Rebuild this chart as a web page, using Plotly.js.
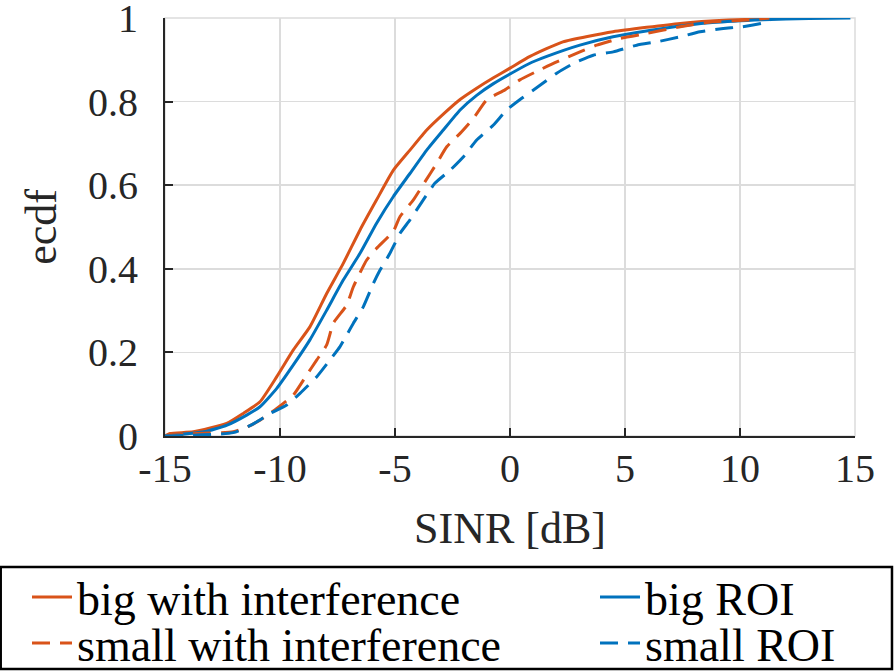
<!DOCTYPE html>
<html>
<head>
<meta charset="utf-8">
<script src="https://cdn.plot.ly/plotly-3.0.1.min.js"></script>
<style>html,body{margin:0;padding:0;background:#fff;}</style>
</head>
<body>
<div id="chart" style="width:894px;height:671px;"></div>
<script>
// big with interference (orange solid)
const bigIntX = [-15, -14.78, -13.77, -12.32, -11.6, -10.87, -10.14, -9.42, -8.7, -7.97, -7.25, -6.52, -5.8, -5.07, -4.35, -3.62, -2.9, -2.17, -1.45, -0.72, 0, 0.87, 2.3, 4.48, 7.4, 9.5, 11.7, 12.5];
const bigIntY = [0, 0.006, 0.01, 0.03, 0.054, 0.082, 0.142, 0.206, 0.261, 0.341, 0.413, 0.493, 0.565, 0.636, 0.684, 0.732, 0.77, 0.805, 0.832, 0.857, 0.88, 0.908, 0.943, 0.967, 0.987, 0.995, 0.999, 1];
// big ROI (blue solid)
const bigRoiX = [-15, -14.6, -13.3, -12.3, -11.45, -10.87, -10.14, -9.42, -8.7, -7.97, -7.25, -6.52, -5.8, -5.07, -4.35, -3.62, -2.9, -2.17, -1.45, -0.72, 0, 0.8, 1.6, 3.04, 4.48, 6.65, 8.8, 11, 13, 14.8];
const bigRoiY = [0, 0.002, 0.01, 0.026, 0.05, 0.07, 0.114, 0.17, 0.23, 0.301, 0.373, 0.437, 0.509, 0.573, 0.628, 0.684, 0.732, 0.78, 0.815, 0.843, 0.866, 0.89, 0.908, 0.935, 0.955, 0.975, 0.989, 0.996, 0.999, 1];
// small with interference (orange dashed)
const smallIntX = [-15, -13.6, -12.03, -11.45, -10.87, -10.14, -9.42, -8.84, -8.4, -7.97, -7.68, -7.1, -6.81, -6.23, -5.8, -5.07, -4.78, -4.2, -3.7, -3.19, -2.75, -2.17, -1.59, -1.01, -0.22, 0.43, 1.3, 2.03, 3.04, 3.77, 4.78, 5.94, 7.4, 8.8, 10.3, 11.3];
const smallIntY = [0, 0.006, 0.01, 0.021, 0.038, 0.066, 0.098, 0.146, 0.182, 0.218, 0.27, 0.313, 0.357, 0.421, 0.449, 0.49, 0.525, 0.565, 0.608, 0.652, 0.692, 0.724, 0.76, 0.804, 0.828, 0.852, 0.876, 0.895, 0.919, 0.935, 0.951, 0.963, 0.979, 0.991, 0.995, 1];
// small ROI (blue dashed)
const smallRoiX = [-15, -12.03, -11.16, -10.43, -9.71, -9.13, -8.4, -7.83, -7.39, -6.81, -6.38, -5.94, -5.65, -5.22, -4.78, -4.35, -3.77, -3.26, -2.6, -1.96, -1.45, -0.72, -0.14, 0.51, 1.23, 2.03, 2.75, 3.62, 4.49, 5.51, 6.38, 7.4, 8.26, 9.27, 10.1, 11.2, 11.4];
const smallRoiY = [0, 0.008, 0.029, 0.054, 0.074, 0.102, 0.142, 0.182, 0.214, 0.27, 0.309, 0.365, 0.397, 0.437, 0.485, 0.517, 0.565, 0.605, 0.636, 0.672, 0.708, 0.744, 0.78, 0.808, 0.836, 0.868, 0.891, 0.911, 0.919, 0.935, 0.943, 0.955, 0.967, 0.975, 0.979, 0.991, 1];

const seriesNames = ['big with interference', 'big ROI', 'small with interference', 'small ROI'];
const xTicks = [-15, -10, -5, 0, 5, 10, 15];
const xTickText = ['-15', '-10', '-5', '0', '5', '10', '15'];
const yTicks = [0, 0.2, 0.4, 0.6, 0.8, 1];
const yTickText = ['0', '0.2', '0.4', '0.6', '0.8', '1'];

const ORANGE = '#D95319';
const BLUE = '#0072BD';
const FONT = 'Liberation Serif, Times New Roman, serif';
const DASH = '18px,10px';

function lineStyle(color, dash) {
  const s = {color: color, width: 3, shape: 'spline', smoothing: 0.5};
  if (dash) s.dash = dash;
  return s;
}

const traces = [
  {x: bigIntX, y: bigIntY, name: seriesNames[0], legend: 'legend', mode: 'lines', line: lineStyle(ORANGE)},
  {x: bigRoiX, y: bigRoiY, name: seriesNames[1], legend: 'legend2', mode: 'lines', line: lineStyle(BLUE)},
  {x: smallIntX, y: smallIntY, name: seriesNames[2], legend: 'legend3', mode: 'lines', line: lineStyle(ORANGE, DASH)},
  {x: smallRoiX, y: smallRoiY, name: seriesNames[3], legend: 'legend4', mode: 'lines', line: lineStyle(BLUE, DASH)}
];

function legendDef(px, py) {
  return {
    orientation: 'h', xref: 'container', yref: 'container',
    x: px / 894, y: 1 - py / 671, xanchor: 'left', yanchor: 'middle',
    font: {family: FONT, size: 46, color: '#000'},
    bgcolor: 'rgba(0,0,0,0)', borderwidth: 0, itemwidth: 40
  };
}

const layout = {
  width: 894, height: 671,
  margin: {l: 165, r: 39, t: 18, b: 235, autoexpand: false},
  paper_bgcolor: '#fff', plot_bgcolor: 'rgba(0,0,0,0)',
  font: {family: FONT, color: '#000', size: 40},
  showlegend: true,
  legend: legendDef(27, 597),
  legend2: legendDef(595, 597),
  legend3: legendDef(27, 643),
  legend4: legendDef(595, 643),
  xaxis: {
    range: [-15, 15], tickvals: xTicks, ticktext: xTickText,
    showgrid: true, gridcolor: '#dcdcdc', gridwidth: 1.5,
    zeroline: false, showline: true, linecolor: '#262626', linewidth: 2,
    ticks: 'inside', ticklen: 8, tickwidth: 2, tickcolor: '#262626',
    tickfont: {family: FONT, size: 40, color: '#262626'},
    ticklabelstandoff: -4, ticklabeloverflow: 'allow',
    title: {text: 'SINR [dB]', font: {family: FONT, size: 44, color: '#262626'}, standoff: 22},
    automargin: true, fixedrange: true
  },
  yaxis: {
    range: [0, 1], tickvals: yTicks, ticktext: yTickText,
    showgrid: true, gridcolor: '#dcdcdc', gridwidth: 1.5,
    zeroline: false, showline: true, linecolor: '#262626', linewidth: 2,
    ticks: 'inside', ticklen: 8, tickwidth: 2, tickcolor: '#262626',
    tickfont: {family: FONT, size: 40, color: '#262626'},
    ticklabelstandoff: 17, ticklabeloverflow: 'allow',
    title: {text: 'ecdf', font: {family: FONT, size: 44, color: '#262626'}, standoff: 18},
    automargin: true, fixedrange: true
  },
  shapes: [
    {type: 'rect', xref: 'paper', yref: 'paper', x0: 0, x1: 1, y0: 0, y1: 1, line: {color: '#dcdcdc', width: 1.5}, layer: 'below'},
    {type: 'rect', xref: 'paper', yref: 'paper', x0: -0.2381, x1: 1.0536, y0: -0.3134, y1: -0.5574, line: {color: '#000', width: 2.5}, fillcolor: 'rgba(0,0,0,0)'}
  ]
};

Plotly.newPlot('chart', traces, layout, {displayModeBar: false, staticPlot: true});
</script>
</body>
</html>
